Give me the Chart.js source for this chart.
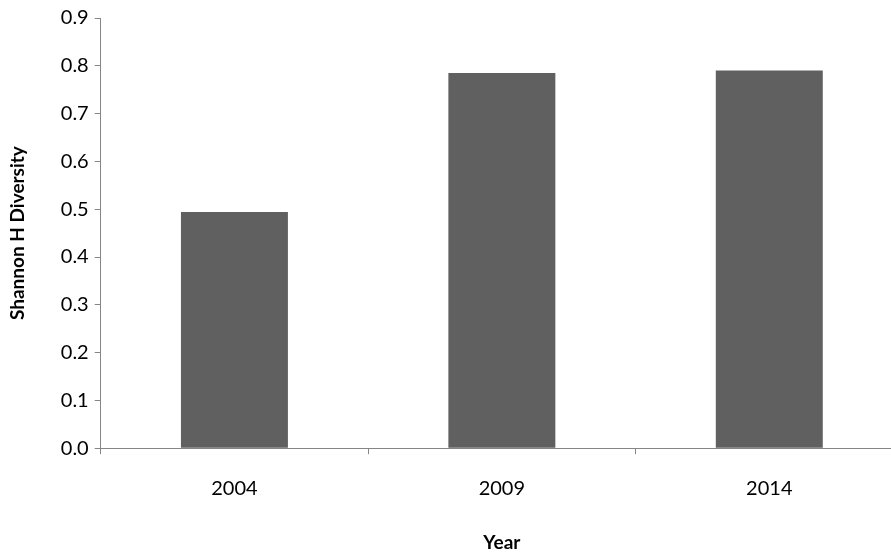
<!DOCTYPE html>
<html><head><meta charset="utf-8">
<script src="https://cdn.jsdelivr.net/npm/chart.js@4"></script>
<style>html,body{margin:0;padding:0;overflow:hidden;background:#fff}</style>
</head><body>
<canvas id="c" width="905" height="556"></canvas>
<script>
const years = ['2004', '2009', '2014'];
const diversity = [0.494, 0.785, 0.790];

const font = { family: 'Lato, "Open Sans", sans-serif', size: 20 };
new Chart(document.getElementById('c'), {
    type: 'bar',
    data: { labels: years, datasets: [{ data: diversity, backgroundColor: '#606060', categoryPercentage: 1, barPercentage: 0.4 }] },
    options: {
        responsive: false, animation: false,
        layout: { padding: { top: 8, right: 2, bottom: 0, left: 2 } },
        plugins: { legend: { display: false }, tooltip: { enabled: false } },
        scales: {
            x: {
                grid: { drawOnChartArea: false, tickLength: 6, color: '#868686' },
                border: { color: '#868686' },
                ticks: { color: '#000', font: font, padding: 22 },
                title: { display: true, text: 'Year', color: '#000', font: { family: font.family, size: 19, weight: 'bold' }, padding: { top: 9, bottom: 2 } }
            },
            y: {
                min: 0, max: 0.9,
                grid: { drawOnChartArea: false, tickLength: 6, color: '#868686' },
                border: { color: '#868686' },
                ticks: { stepSize: 0.1, color: '#000', font: font, padding: 6, callback: v => v.toFixed(1) },
                title: { display: true, text: 'Shannon H Diversity', color: '#000', font: { family: font.family, size: 19, weight: 'bold' }, padding: { bottom: 26 } }
            }
        }
    }
});
</script>
</body></html>
